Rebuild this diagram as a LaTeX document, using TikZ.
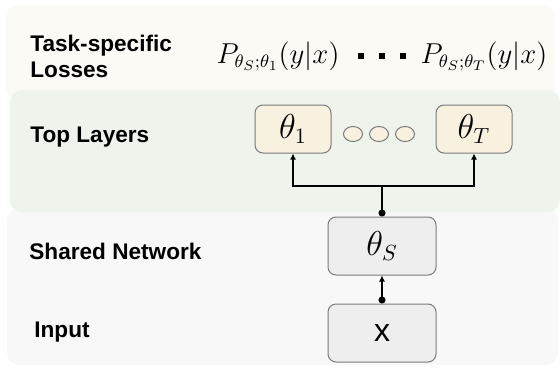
\documentclass[tikz,border=0pt]{standalone}
\usepackage{fontspec}
\setmainfont{Liberation Sans}
\usetikzlibrary{arrows.meta,shapes.geometric}
\definecolor{lossbg}{HTML}{FBFAF5}
\definecolor{topbg}{HTML}{EEF4EB}
\definecolor{sharedbg}{HTML}{F8F8F8}
\definecolor{thetafill}{HTML}{F8F1E0}
\definecolor{sharedfill}{HTML}{EEEEEE}
\definecolor{boxline}{HTML}{7A7A7A}
\begin{document}
\begin{tikzpicture}[x=0.5pt,y=-0.5pt,
    band/.style={rounded corners=6pt},
    lbl/.style={anchor=west,inner sep=0,align=left,font=\fontsize{11.3}{13}\selectfont\bfseries},
    loss/.style={inner sep=0,anchor=base,font=\fontsize{13.3}{15}\selectfont},
    sq/.style={fill=black,inner sep=0,minimum size=2.6pt},
    thbox/.style={draw=boxline,line width=0.5pt,fill=thetafill,rounded corners=4pt,minimum width=38pt,minimum height=24pt,font=\fontsize{16}{18}\selectfont},
    shbox/.style={draw=boxline,line width=0.5pt,fill=sharedfill,rounded corners=4pt,minimum width=54pt,minimum height=29pt},
    dots/.style={draw=boxline,line width=0.5pt,fill=thetafill,ellipse,inner sep=0,minimum width=9.5pt,minimum height=7.5pt},
    link/.style={line width=0.6pt},
    tip/.style={-{Latex[length=3pt,width=3pt]}}]
  \useasboundingbox (0,0) rectangle (560,369);
  \fill[lossbg,band] (6,5) rectangle (555,100);
  \fill[sharedbg,band] (7,208) rectangle (558,365);
  \fill[topbg,band] (10,90) rectangle (560,212);

  \node[lbl] (l1) at (30,56) {Task-specific\\Losses};
  \node[lbl] (l2) at (30,137) {Top Layers};
  \node[lbl] (l3) at (29,251) {Shared Network};
  \node[lbl] (l4) at (34,332) {Input};

  \node[loss] (p1) at (278,63) {$P_{\theta_S;\theta_1}(y|x)$};
  \node[sq] (s1) at (361,56) {};
  \node[sq] (s2) at (382,56) {};
  \node[sq] (s3) at (403,56) {};
  \node[loss] (pT) at (484,63) {$P_{\theta_S;\theta_T}(y|x)$};

  \node[thbox] (t1) at (293,129) {$\theta_1$};
  \node[dots] (c1) at (353,134) {};
  \node[dots] (c2) at (379,134) {};
  \node[dots] (c3) at (405,134) {};
  \node[thbox] (tT) at (474,129) {$\theta_T$};

  \node[shbox,font=\fontsize{16}{18}\selectfont] (thS) at (382,246) {$\theta_S$};
  \node[shbox,font=\fontsize{16}{18}\selectfont] (xin) at (382,333) {x};
  \coordinate (jn) at (382,186);

  \draw[link,{Circle[length=3.5pt]}-] (thS.north) -- (jn);
  \draw[link,tip] (jn) -| (t1.south);
  \draw[link,tip] (jn) -| (tT.south);
  \draw[link,{Circle[length=3.5pt]}-{Latex[length=3pt,width=3pt]}] (xin.north) -- (thS.south);
\end{tikzpicture}
\end{document}
